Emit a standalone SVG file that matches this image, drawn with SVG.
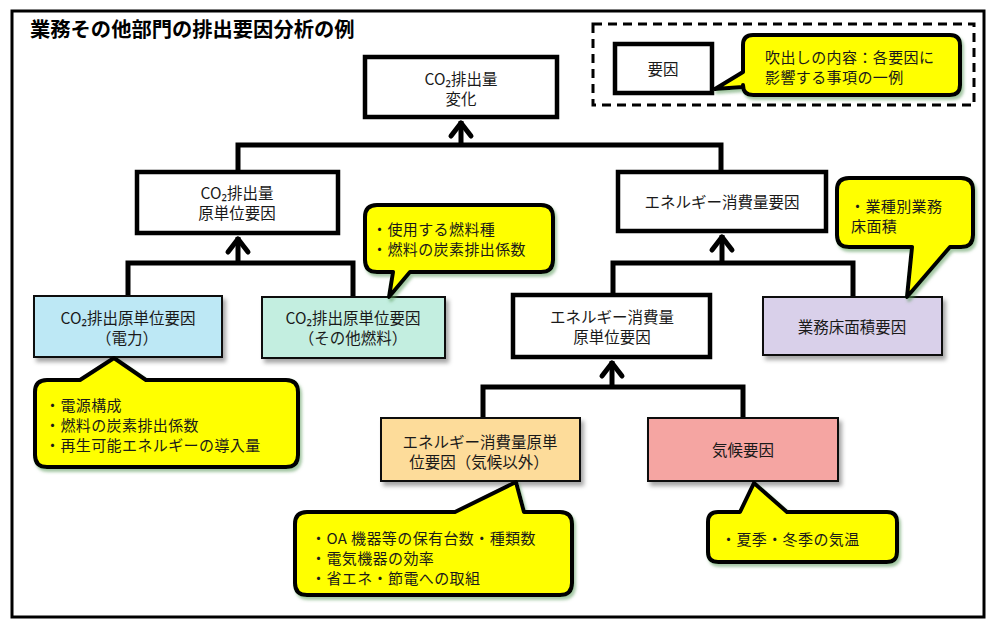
<svg xmlns="http://www.w3.org/2000/svg" width="1000" height="629" viewBox="0 0 1000 629">
<style>
text{font-family:"Noto Sans CJK JP","Noto Sans",sans-serif;font-size:15.5px;fill:#1a1a1a}
.c{text-anchor:middle}
.t{font-size:15px;letter-spacing:0.4px}
.title{font-size:20.3px;font-weight:bold;fill:#000}
.wbox{fill:#fff;stroke:#000;stroke-width:4.5}
.cbox{stroke:#111;stroke-width:2;filter:url(#sh)}
.callout{fill:#ffff00;stroke:#000;stroke-width:4;stroke-linejoin:round;filter:url(#gsh)}
.conn{fill:none;stroke:#000;stroke-width:5;stroke-linejoin:miter}
</style>
<defs>
<filter id="sh" x="-10%" y="-10%" width="130%" height="140%">
<feDropShadow dx="3" dy="4" stdDeviation="2" flood-color="#000" flood-opacity="0.35"/>
</filter>
<filter id="gsh" x="-10%" y="-10%" width="130%" height="140%">
<feDropShadow dx="2" dy="3" stdDeviation="1.5" flood-color="#5a9a5a" flood-opacity="0.55"/>
</filter>
<marker id="arr" markerUnits="userSpaceOnUse" orient="auto" refX="0" refY="0" markerWidth="40" markerHeight="40" overflow="visible">
<path d="M-15,-10 L-2,0 L-15,10" fill="none" stroke="#000" stroke-width="5" stroke-linejoin="round" stroke-linecap="round"/>
</marker>
</defs>

<rect x="0" y="0" width="1000" height="629" fill="#fff"/>
<rect x="12" y="11" width="972" height="606" fill="#fff" stroke="#000" stroke-width="3"/>
<text class="title" x="30" y="37">業務その他部門の排出要因分析の例</text>

<g id="legend">
<rect x="593" y="24" width="381" height="81" fill="none" stroke="#000" stroke-width="3" stroke-dasharray="9,6"/>
<rect class="wbox" x="615" y="44" width="97" height="49"/>
<text class="c" x="663" y="75">要因</text>
<path class="callout" d="M753,35 H950 Q960,35 960,45 V85 Q960,95 950,95 H753 Q743,95 743,85 V87 L715,89 L743,72 V45 Q743,35 753,35 Z"/>
<text class="t" x="765" y="62.5">吹出しの内容：各要因に</text>
<text class="t" x="765" y="82.5">影響する事項の一例</text>
</g>

<g id="connectors">
<polyline class="conn" points="238,172 238,145 721,145 721,172"/>
<line class="conn" x1="461" y1="145" x2="461" y2="121" marker-end="url(#arr)"/>
<polyline class="conn" points="128,296 128,263 353,263 353,297"/>
<line class="conn" x1="238" y1="263" x2="238" y2="237" marker-end="url(#arr)"/>
<polyline class="conn" points="613,295 613,263 853,263 853,297"/>
<line class="conn" x1="722" y1="263" x2="722" y2="235" marker-end="url(#arr)"/>
<polyline class="conn" points="483,418 483,387 743,387 743,418"/>
<line class="conn" x1="612" y1="387" x2="612" y2="361" marker-end="url(#arr)"/>
</g>

<g id="n-co2-change">
<rect class="wbox" x="365" y="57" width="192" height="60"/>
<text class="c" x="461" y="85">CO₂排出量</text>
<text class="c" x="461" y="105">変化</text>
</g>

<g id="n-co2-intensity">
<rect class="wbox" x="137" y="172" width="201" height="61"/>
<text class="c" x="237" y="199">CO₂排出量</text>
<text class="c" x="237" y="219">原単位要因</text>
</g>

<g id="n-energy">
<rect class="wbox" x="618" y="172" width="208" height="59"/>
<text class="c" x="722" y="208">エネルギー消費量要因</text>
</g>

<g id="n-elec">
<rect class="cbox" x="34" y="296" width="188" height="61" fill="#bde8f5"/>
<text class="c" x="128" y="324">CO₂排出原単位要因</text>
<text class="c" x="127" y="344">（電力）</text>
</g>

<g id="n-fuel">
<rect class="cbox" x="262" y="297" width="183" height="61" fill="#c3eee0"/>
<text class="c" x="353" y="324">CO₂排出原単位要因</text>
<text class="c" x="353" y="344">（その他燃料）</text>
</g>

<g id="n-energy-intensity">
<rect class="wbox" x="513" y="295" width="197" height="62"/>
<text class="c" x="612" y="322.5">エネルギー消費量</text>
<text class="c" x="612" y="342.5">原単位要因</text>
</g>

<g id="n-floor">
<rect class="cbox" x="763" y="297" width="179" height="58" fill="#d9d0ea"/>
<text class="c" x="852" y="333">業務床面積要因</text>
</g>

<g id="n-nonclimate">
<rect class="cbox" x="381" y="418" width="199" height="63" fill="#fddc9a"/>
<text class="c" x="480" y="447.5">エネルギー消費量原単</text>
<text class="c" x="479" y="467.5">位要因（気候以外）</text>
</g>

<g id="n-climate">
<rect class="cbox" x="648" y="418" width="190" height="63" fill="#f5a5a2"/>
<text class="c" x="743" y="456">気候要因</text>
</g>

<g id="callout-fuel">
<path class="callout" d="M377,205 H541 Q553,205 553,217 V260 Q553,272 541,272 H410 L389,297 L393,272 H377 Q365,272 365,260 V217 Q365,205 377,205 Z"/>
<text class="t" x="372" y="234.5">・使用する燃料種</text>
<text class="t" x="372" y="254.5">・燃料の炭素排出係数</text>
</g>

<g id="callout-floor">
<path class="callout" d="M849,178 H961 Q973,178 973,190 V235 Q973,247 961,247 H950 L907,297 L912,247 H849 Q837,247 837,235 V190 Q837,178 849,178 Z"/>
<text class="t" x="850" y="211.5" letter-spacing="1.6">・業種別業務</text>
<text class="t" x="851" y="231.5">床面積</text>
</g>

<g id="callout-elec">
<path class="callout" d="M47,380 H80 L114,358 L146,380 H286 Q298,380 298,392 V455 Q298,467 286,467 H47 Q35,467 35,455 V392 Q35,380 47,380 Z"/>
<text class="t" x="45" y="411">・電源構成</text>
<text class="t" x="45" y="431">・燃料の炭素排出係数</text>
<text class="t" x="45" y="451">・再生可能エネルギーの導入量</text>
</g>

<g id="callout-oa">
<path class="callout" d="M307,512 H455 L516,482 L524,512 H560 Q572,512 572,524 V583 Q572,595 560,595 H307 Q295,595 295,583 V524 Q295,512 307,512 Z"/>
<text class="t" x="311" y="544">・OA 機器等の保有台数・種類数</text>
<text class="t" x="311" y="564">・電気機器の効率</text>
<text class="t" x="311" y="584">・省エネ・節電への取組</text>
</g>

<g id="callout-temp">
<path class="callout" d="M718,512 H740 L754,483 L787,512 H887 Q897,512 897,522 V552 Q897,562 887,562 H718 Q708,562 708,552 V522 Q708,512 718,512 Z"/>
<text class="t" x="721" y="545">・夏季・冬季の気温</text>
</g>
</svg>
